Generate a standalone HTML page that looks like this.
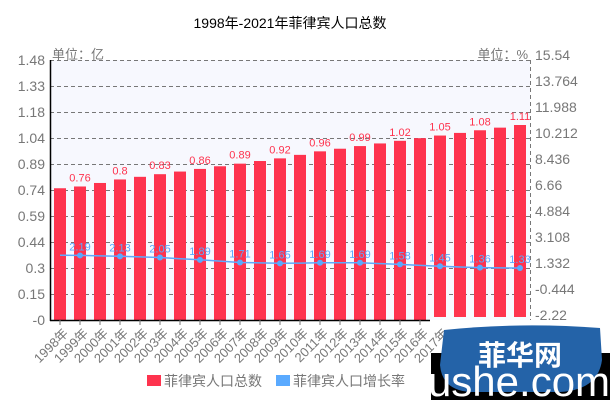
<!DOCTYPE html>
<html><head><meta charset="utf-8"><style>
body{margin:0;background:#fff;}
svg{display:block;font-family:"Liberation Sans","Noto Sans CJK SC",sans-serif;}
</style></head><body>
<svg width="610" height="406" viewBox="0 0 610 406" xmlns="http://www.w3.org/2000/svg">
<text x="290" y="28" text-anchor="middle" font-size="14" fill="#000">1998年-2021年菲律宾人口总数</text>
<rect x="50" y="60" width="480" height="260" fill="#f7f8fe"/>
<g stroke="#777" stroke-dasharray="4,3" stroke-width="1">
<line x1="50" y1="60.5" x2="530" y2="60.5"/><line x1="50" y1="86.5" x2="530" y2="86.5"/>
<line x1="50" y1="112.5" x2="530" y2="112.5"/><line x1="50" y1="138.5" x2="530" y2="138.5"/>
<line x1="50" y1="164.5" x2="530" y2="164.5"/><line x1="50" y1="190.5" x2="530" y2="190.5"/>
<line x1="50" y1="216.5" x2="530" y2="216.5"/><line x1="50" y1="242.5" x2="530" y2="242.5"/>
<line x1="50" y1="268.5" x2="530" y2="268.5"/><line x1="50" y1="294.5" x2="530" y2="294.5"/>
<line x1="530.5" y1="60" x2="530.5" y2="320"/>
</g>
<g font-size="14" fill="#777" text-anchor="end">
<text x="45" y="65">1.48</text><text x="45" y="91">1.33</text><text x="45" y="117">1.18</text>
<text x="45" y="143">1.04</text><text x="45" y="169">0.89</text><text x="45" y="195">0.74</text>
<text x="45" y="221">0.59</text><text x="45" y="247">0.44</text><text x="45" y="273">0.3</text>
<text x="45" y="299">0.15</text><text x="45" y="325">-0</text>
</g>
<g font-size="14" fill="#777">
<text x="535" y="60">15.54</text><text x="535" y="86">13.764</text><text x="535" y="112">11.988</text>
<text x="535" y="138">10.212</text><text x="535" y="164">8.436</text><text x="535" y="190">6.66</text>
<text x="535" y="216">4.884</text><text x="535" y="242">3.108</text><text x="535" y="268">1.332</text>
<text x="535" y="294">-0.444</text><text x="535" y="320">-2.22</text>
<text x="52" y="59" font-size="13">单位：亿</text><text x="528" y="59" font-size="13" text-anchor="end">单位：%</text>
</g>
<g fill="#fe334e" id="bars"></g>
<g id="lbl" font-size="11" fill="#fe334e" text-anchor="middle"></g>
<g id="line"></g>
<line x1="50.5" y1="60" x2="50.5" y2="321" stroke="#000" stroke-width="1.5"/>
<line x1="50" y1="320.5" x2="430" y2="320.5" stroke="#000" stroke-width="1.5"/>
<g id="xl" font-size="13" fill="#777"></g>
<rect x="147" y="375" width="14" height="11" fill="#fe334e"/>
<text x="164" y="386" font-size="14" fill="#777">菲律宾人口总数</text>
<rect x="276" y="375" width="14" height="11" fill="#5aaaff"/>
<text x="293" y="386" font-size="14" fill="#777">菲律宾人口增长率</text>
<rect x="431" y="353" width="179" height="47" fill="#000"/>
<path d="M444 330 Q520 322 600 328 L602 360 Q598 390 560 392 L470 392 Q442 390 440 365 Z" fill="#2463a8"/>
<text x="520" y="365" text-anchor="middle" font-size="28" font-weight="bold" fill="#fff">菲华网</text>
<text x="519" y="396" text-anchor="middle" font-size="42" fill="#fff">ushe.com</text>
</svg>
<script>
const ns="http://www.w3.org/2000/svg";
const v=[0.75,0.76,0.78,0.80,0.815,0.83,0.845,0.86,0.875,0.89,0.905,0.92,0.94,0.96,0.975,0.99,1.005,1.02,1.035,1.05,1.065,1.08,1.095,1.11];
const r=[2.2,2.19,2.16,2.13,2.09,2.05,1.97,1.89,1.8,1.71,1.68,1.65,1.67,1.69,1.69,1.69,1.63,1.58,1.51,1.45,1.40,1.36,1.34,1.33];
const lv={1:"0.76",3:"0.8",5:"0.83",7:"0.86",9:"0.89",11:"0.92",13:"0.96",15:"0.99",17:"1.02",19:"1.05",21:"1.08",23:"1.11"};
function el(t,a,p,txt){const e=document.createElementNS(ns,t);for(const k in a)e.setAttribute(k,a[k]);if(txt)e.textContent=txt;document.getElementById(p).appendChild(e);return e;}
let pts=[];
for(let i=0;i<24;i++){
 const cx=60+20*i, y=320-v[i]/1.48*260, bot=i>=19?317:320;
 el("rect",{x:cx-6,y:y,width:12,height:bot-y},"bars");
 if(lv[i])el("text",{x:cx,y:y-5},"lbl",lv[i]);
 const ry=320-(r[i]+2.22)/17.76*260; pts.push(cx+","+ry.toFixed(1));
 if(i%2==1){el("circle",{cx:cx,cy:ry,r:3,fill:"#5aaaff"},"line");el("text",{x:cx,y:ry-5,"font-size":11,fill:"#5aaaff","text-anchor":"middle"},"line",r[i].toFixed(2).replace(/0$/,""));}
 if(i<19){el("line",{x1:cx,y1:320,x2:cx,y2:325,stroke:"#777"},"xl");}
 if(i<20){el("text",{x:cx+9,y:334,"text-anchor":"end",transform:`rotate(-45 ${cx+9} 334)`},"xl",(1998+i)+"年");}
}
el("polyline",{points:pts.join(" "),fill:"none",stroke:"#5aaaff","stroke-width":1.5},"line");
</script>
</body></html>
